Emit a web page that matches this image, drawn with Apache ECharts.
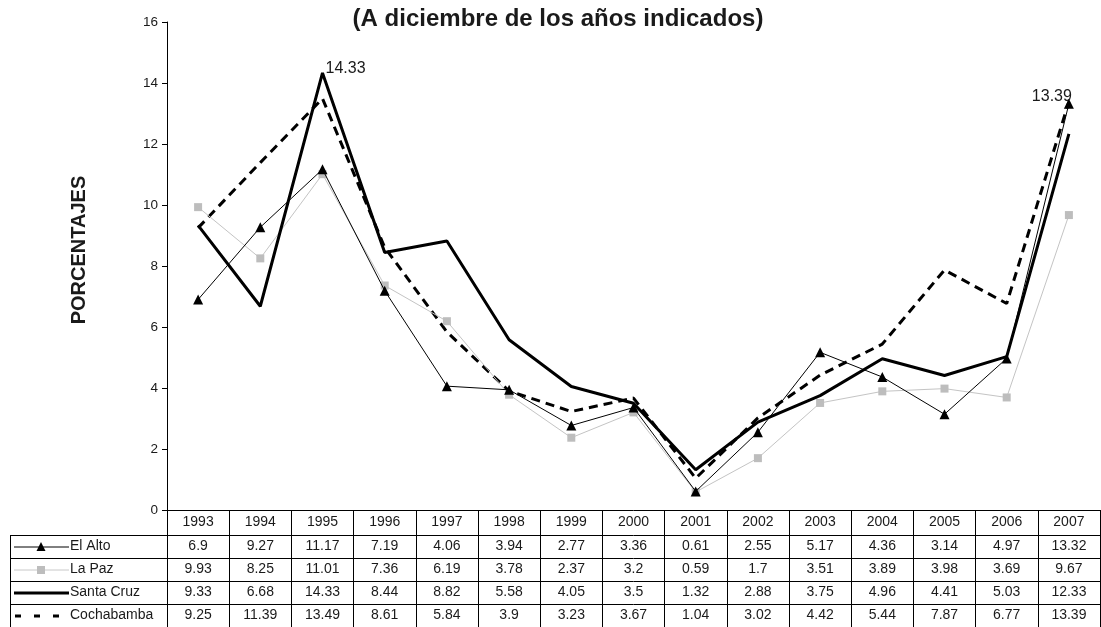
<!DOCTYPE html>
<html><head><meta charset="utf-8">
<script src="https://cdn.jsdelivr.net/npm/echarts@6/dist/echarts.min.js"></script>
<style>html,body{margin:0;padding:0;background:#fff}#c{width:1101px;height:627px}</style>
</head><body><div id="c"></div>
<script>
const years = ['1993','1994','1995','1996','1997','1998','1999','2000','2001','2002','2003','2004','2005','2006','2007'];
const elAlto = [6.9, 9.27, 11.17, 7.19, 4.06, 3.94, 2.77, 3.36, 0.61, 2.55, 5.17, 4.36, 3.14, 4.97, 13.32];
const laPaz = [9.93, 8.25, 11.01, 7.36, 6.19, 3.78, 2.37, 3.2, 0.59, 1.7, 3.51, 3.89, 3.98, 3.69, 9.67];
const santaCruz = [9.33, 6.68, 14.33, 8.44, 8.82, 5.58, 4.05, 3.5, 1.32, 2.88, 3.75, 4.96, 4.41, 5.03, 12.33];
const cochabamba = [9.25, 11.39, 13.49, 8.61, 5.84, 3.9, 3.23, 3.67, 1.04, 3.02, 4.42, 5.44, 7.87, 6.77, 13.39];
const seriesNames = ['El Alto', 'La Paz', 'Santa Cruz', 'Cochabamba'];
const yTicks = {min: 0, max: 16, interval: 2};

const FONT = 'Liberation Sans, Arial, sans-serif';
const TXT = '#1a1a1a';
const chart = echarts.init(document.getElementById('c'));

function tableAxis(values, offset) {
  return {
    type: 'category', gridIndex: 0, position: 'bottom', offset: offset,
    data: values.map(String), boundaryGap: true,
    axisLine: {show: true, lineStyle: {color: '#000', width: 1}},
    axisTick: {show: true, interval: 0, length: 23, inside: false, lineStyle: {color: '#000', width: 1}},
    axisLabel: {interval: 0, margin: 4, fontSize: 14, color: TXT, fontFamily: FONT}
  };
}

const rowOffsets = [25, 48, 71, 94];
const tableLines = [];
[535, 558, 581, 604].forEach(y => tableLines.push({type: 'line', shape: {x1: 10, y1: y + 0.5, x2: 167, y2: y + 0.5}, style: {stroke: '#000', lineWidth: 1}}));
tableLines.push({type: 'line', shape: {x1: 10.5, y1: 535, x2: 10.5, y2: 627}, style: {stroke: '#000', lineWidth: 1}});

const legendY = [547, 570, 593, 616];
const legendItems = [];
legendItems.push({type: 'line', shape: {x1: 14, y1: legendY[0], x2: 69, y2: legendY[0]}, style: {stroke: '#000', lineWidth: 1}});
legendItems.push({type: 'polygon', shape: {points: [[41, legendY[0] - 5], [36.5, legendY[0] + 4], [45.5, legendY[0] + 4]]}, style: {fill: '#000'}});
legendItems.push({type: 'line', shape: {x1: 14, y1: legendY[1], x2: 69, y2: legendY[1]}, style: {stroke: '#c8c8c8', lineWidth: 1}});
legendItems.push({type: 'rect', shape: {x: 37, y: legendY[1] - 4, width: 8, height: 8}, style: {fill: '#bdbdbd'}});
legendItems.push({type: 'line', shape: {x1: 14, y1: legendY[2], x2: 69, y2: legendY[2]}, style: {stroke: '#000', lineWidth: 3}});
legendItems.push({type: 'line', shape: {x1: 15, y1: legendY[3], x2: 60, y2: legendY[3]}, style: {stroke: '#000', lineWidth: 3, lineDash: [6, 13]}});
seriesNames.forEach((n, i) => legendItems.push({type: 'text', left: 70, top: legendY[i] - 8, style: {text: n, font: '14px ' + FONT, fill: TXT}}));

const axisName = {type: 'text', x: 79, y: 250, rotation: Math.PI / 2,
  style: {text: 'PORCENTAJES', font: 'bold 20px ' + FONT, fill: TXT, align: 'center', verticalAlign: 'middle'}};
const titleText = {type: 'text', x: 558, y: 19,
  style: {text: '(A diciembre de los años indicados)', font: 'bold 24px ' + FONT, fill: TXT, align: 'center', verticalAlign: 'middle'}};

function withLabel(arr, idx, pos, offset) {
  return arr.map((v, i) => i === idx ? {value: v, label: {show: true, position: pos, distance: 5, offset: offset, formatter: String(v), fontSize: 16, color: TXT, fontFamily: FONT}} : v);
}

chart.setOption({
  animation: false,
  backgroundColor: '#fff',
  grid: {left: 167, right: 1, top: 22, bottom: 117, containLabel: false},
  xAxis: [
    {type: 'category', data: years, boundaryGap: true, position: 'bottom',
      axisLine: {show: true, lineStyle: {color: '#000', width: 1}},
      axisTick: {show: true, interval: 0, length: 25, lineStyle: {color: '#000'}},
      axisLabel: {interval: 0, margin: 5, fontSize: 14, color: TXT, fontFamily: FONT},
      splitLine: {show: false}},
    tableAxis(elAlto, rowOffsets[0]),
    tableAxis(laPaz, rowOffsets[1]),
    tableAxis(santaCruz, rowOffsets[2]),
    tableAxis(cochabamba, rowOffsets[3])
  ],
  yAxis: {type: 'value', min: yTicks.min, max: yTicks.max, interval: yTicks.interval,
    axisLine: {show: true, lineStyle: {color: '#000'}},
    axisTick: {show: true, length: 5, lineStyle: {color: '#000'}},
    axisLabel: {fontSize: 13.5, color: TXT, margin: 9, fontFamily: FONT},
    splitLine: {show: false}},
  series: [
    {name: seriesNames[3], type: 'line', data: withLabel(cochabamba, 14, 'left', [8, -5]), xAxisIndex: 0,
      symbol: 'circle', symbolSize: 0, itemStyle: {color: 'transparent'}, lineStyle: {color: '#000', width: 3, type: [9, 6]}, z: 2},
    {name: seriesNames[1], type: 'line', data: laPaz, xAxisIndex: 0,
      symbol: 'rect', symbolSize: 8, itemStyle: {color: '#bdbdbd'}, lineStyle: {color: '#c4c4c4', width: 1}, z: 3},
    {name: seriesNames[2], type: 'line', data: withLabel(santaCruz, 2, 'right', [-2, -4]), xAxisIndex: 0,
      symbol: 'circle', symbolSize: 0, itemStyle: {color: 'transparent'}, lineStyle: {color: '#000', width: 3}, z: 4},
    {name: seriesNames[0], type: 'line', data: elAlto, xAxisIndex: 0,
      symbol: 'triangle', symbolSize: 10, itemStyle: {color: '#000'}, lineStyle: {color: '#000', width: 1}, z: 5}
  ],
  graphic: tableLines.concat(legendItems, [axisName, titleText])
});
</script></body></html>
